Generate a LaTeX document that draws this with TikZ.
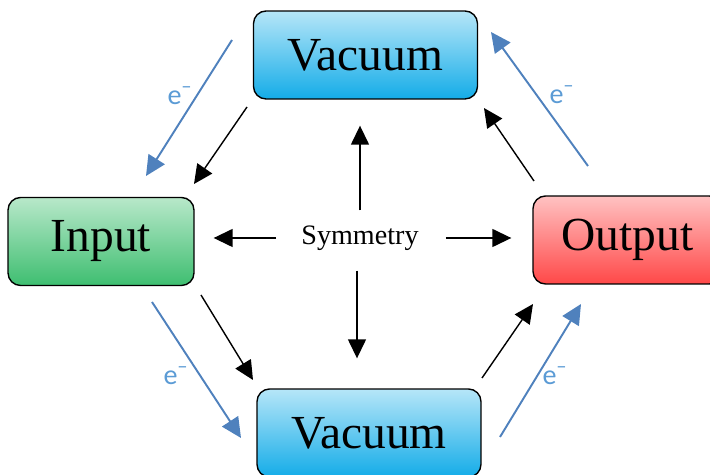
\documentclass[tikz,border=0pt]{standalone}
\usepackage{fontspec}
\setmainfont{Liberation Serif}
\newfontfamily\elecfont{Carlito}
\usepackage{tikz}
\usetikzlibrary{arrows.meta, positioning}

\definecolor{vacTop}{RGB}{182,230,248}
\definecolor{vacBot}{RGB}{20,172,232}
\definecolor{inTop}{RGB}{184,232,202}
\definecolor{inBot}{RGB}{62,190,112}
\definecolor{outTop}{RGB}{255,194,194}
\definecolor{outBot}{RGB}{255,72,72}
\definecolor{eArrow}{RGB}{79,129,189}
\definecolor{eText}{RGB}{91,155,213}

\tikzset{
  box/.style={draw, line width=0.8pt, rounded corners=0.25cm, minimum height=1.76cm, inner sep=0pt, font=\fontsize{27}{30}\selectfont},
  vacbox/.style={box, minimum width=4.48cm, top color=vacTop, bottom color=vacBot},
  eflow/.style={draw=eArrow, line width=1.1pt, -{Triangle[length=0.4cm, width=0.38cm]}},
  eflowtip/.style={text=eText, font=\elecfont\fontsize{16}{18}\selectfont},
  flow/.style={line width=0.8pt, -{Triangle[length=0.38cm, width=0.36cm]}}
}

\begin{document}
\begin{tikzpicture}[x=0.02cm, y=-0.02cm]
		\useasboundingbox (0,0) rectangle (710,475);
		% Boxes:
		\node[vacbox] (vtop) at (365.5,55) {Vacuum};
		\node[vacbox] (vbot) at (369,433) {Vacuum};
		\node[box, minimum width=3.72cm, top color=inTop, bottom color=inBot] (inp) at (101,241.5) {Input};
		\node[box, minimum width=3.78cm, top color=outTop, bottom color=outBot] (outp) at (627.5,240) {Output};
		\node[inner sep=0pt, font=\fontsize{16}{18}\selectfont] (sym) at (360,238) {Symmetry};
		% Symmetry arrows:
		\draw[flow, shorten <=0.3cm, shorten >=0.52cm] (sym.north) -- (sym.north |- vtop.south);
		\draw[flow, shorten <=0.4cm, shorten >=0.6cm] ([xshift=-0.06cm]sym.south) -- ([xshift=-0.06cm]sym.south |- vbot.north);
		\draw[flow, shorten <=0.5cm, shorten >=0.38cm] (sym.west) -- (sym.west -| inp.east);
		\draw[flow, shorten <=0.54cm, shorten >=0.42cm] (sym.east) -- (sym.east -| outp.west);
		% Ends of the flow arrows:
		\coordinate (fTL0) at (247,107); \coordinate (fTL1) at (194,184);
		\coordinate (fBL0) at (201,295); \coordinate (fBL1) at (253,380);
		\coordinate (fBR0) at (482,378); \coordinate (fBR1) at (533,304);
		\coordinate (fTR0) at (534,181); \coordinate (fTR1) at (484,108);
		\draw[flow] (fTL0) -- (fTL1);
		\draw[flow] (fBL0) -- (fBL1);
		\draw[flow] (fBR0) -- (fBR1);
		\draw[flow] (fTR0) -- (fTR1);
		% Electron paths:
		\coordinate (eTL0) at (232,40);  \coordinate (eTL1) at (146,176);
		\coordinate (eBL0) at (152,302); \coordinate (eBL1) at (241,438);
		\coordinate (eTR0) at (588,166); \coordinate (eTR1) at (491,32);
		\coordinate (eBR0) at (500,437); \coordinate (eBR1) at (581,304);
		\draw[eflow] (eTL0) -- (eTL1);
		\draw[eflow] (eBL0) -- (eBL1);
		\draw[eflow] (eTR0) -- (eTR1);
		\draw[eflow] (eBR0) -- (eBR1);
		\node[eflowtip] (eTL) at (180,96) {e\textsuperscript{−}};
		\node[eflowtip] (eBL) at (176,376) {e\textsuperscript{−}};
		\node[eflowtip] (eTR) at (562,95) {e\textsuperscript{−}};
		\node[eflowtip] (eBR) at (555,376) {e\textsuperscript{−}};
	\end{tikzpicture}
\end{document}
